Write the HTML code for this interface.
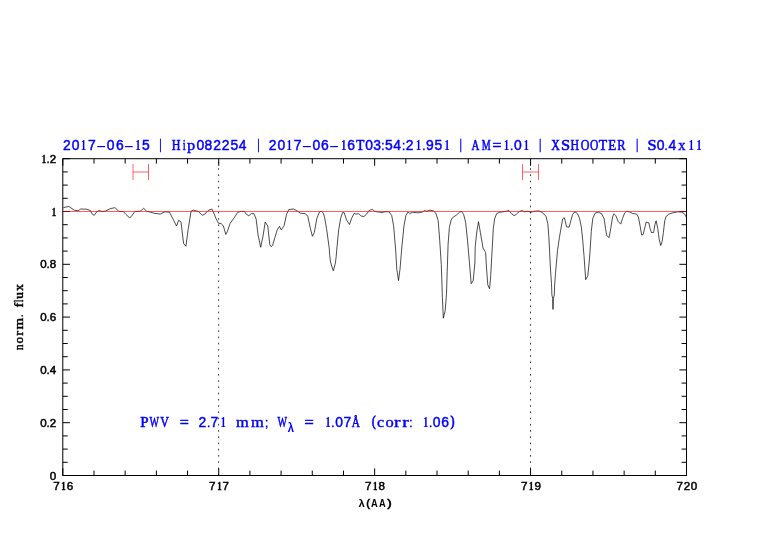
<!DOCTYPE html>
<html><head><meta charset="utf-8"><title>plot</title>
<style>
html,body{margin:0;padding:0;background:#fff;}
body{width:782px;height:542px;overflow:hidden;}
svg{display:block;}
.tk{fill:#000;stroke:#000;stroke-width:0.5px;}
.ttl{fill:#0000ff;stroke:#0000ff;stroke-width:0.3px;}
.lab{fill:#000;stroke:#000;stroke-width:0;}
.s{font-family:"Liberation Sans",sans-serif;}
.r{font-family:"Liberation Serif",serif;}
.sb{font-family:"Liberation Sans",sans-serif;font-weight:bold;}
.rb{font-family:"Liberation Serif",serif;font-weight:bold;}
</style></head>
<body>
<svg width="782" height="542" viewBox="0 0 782 542">
<rect width="782" height="542" fill="#fff"/>
<text class="ttl" y="150.6"><tspan x="62.98" y="150.30" textLength="7.73" lengthAdjust="spacingAndGlyphs" class="s" font-size="13.9" stroke-width="0.45">2</tspan><tspan x="71.76" y="150.30" textLength="7.73" lengthAdjust="spacingAndGlyphs" class="s" font-size="13.9" stroke-width="0.45">0</tspan><tspan x="80.72" y="150.30" textLength="5.45" lengthAdjust="spacingAndGlyphs" class="rb" font-size="14.734000000000002" stroke-width="0">1</tspan><tspan x="87.98" y="150.30" textLength="7.73" lengthAdjust="spacingAndGlyphs" class="s" font-size="13.9" stroke-width="0.45">7</tspan><tspan x="95.81" y="150.50" textLength="10.78" lengthAdjust="spacingAndGlyphs" class="s" font-size="13.9" stroke-width="0">-</tspan><tspan x="106.68" y="150.30" textLength="7.73" lengthAdjust="spacingAndGlyphs" class="s" font-size="13.9" stroke-width="0.45">0</tspan><tspan x="115.89" y="150.30" textLength="7.73" lengthAdjust="spacingAndGlyphs" class="s" font-size="13.9" stroke-width="0.45">6</tspan><tspan x="123.63" y="150.50" textLength="10.64" lengthAdjust="spacingAndGlyphs" class="s" font-size="13.9" stroke-width="0">-</tspan><tspan x="135.22" y="150.30" textLength="5.45" lengthAdjust="spacingAndGlyphs" class="rb" font-size="14.734000000000002" stroke-width="0">1</tspan><tspan x="141.95" y="150.30" textLength="7.73" lengthAdjust="spacingAndGlyphs" class="s" font-size="13.9" stroke-width="0.45">5</tspan> <tspan x="159.12" y="149.00" textLength="2.96" lengthAdjust="spacingAndGlyphs" class="r" font-size="14.8" stroke-width="0.3">|</tspan> <tspan x="171.85" y="150.30" textLength="8.70" lengthAdjust="spacingAndGlyphs" class="r" font-size="14.4" stroke-width="0.55">H</tspan><tspan x="182.72" y="150.30" textLength="3.04" lengthAdjust="spacingAndGlyphs" class="r" font-size="14.4" stroke-width="0.4">i</tspan><tspan x="187.09" y="150.30" textLength="8.21" lengthAdjust="spacingAndGlyphs" class="r" font-size="14.4" stroke-width="0.4">p</tspan><tspan x="196.38" y="150.30" textLength="7.73" lengthAdjust="spacingAndGlyphs" class="s" font-size="13.9" stroke-width="0.45">0</tspan><tspan x="204.53" y="150.30" textLength="7.73" lengthAdjust="spacingAndGlyphs" class="s" font-size="13.9" stroke-width="0.45">8</tspan><tspan x="213.23" y="150.30" textLength="7.73" lengthAdjust="spacingAndGlyphs" class="s" font-size="13.9" stroke-width="0.45">2</tspan><tspan x="221.73" y="150.30" textLength="7.73" lengthAdjust="spacingAndGlyphs" class="s" font-size="13.9" stroke-width="0.45">2</tspan><tspan x="230.40" y="150.30" textLength="7.73" lengthAdjust="spacingAndGlyphs" class="s" font-size="13.9" stroke-width="0.45">5</tspan><tspan x="238.83" y="150.30" textLength="7.73" lengthAdjust="spacingAndGlyphs" class="s" font-size="13.9" stroke-width="0.45">4</tspan> <tspan x="256.92" y="149.00" textLength="2.96" lengthAdjust="spacingAndGlyphs" class="r" font-size="14.8" stroke-width="0.3">|</tspan> <tspan x="268.68" y="150.30" textLength="7.73" lengthAdjust="spacingAndGlyphs" class="s" font-size="13.9" stroke-width="0.45">2</tspan><tspan x="277.46" y="150.30" textLength="7.73" lengthAdjust="spacingAndGlyphs" class="s" font-size="13.9" stroke-width="0.45">0</tspan><tspan x="286.42" y="150.30" textLength="5.45" lengthAdjust="spacingAndGlyphs" class="rb" font-size="14.734000000000002" stroke-width="0">1</tspan><tspan x="293.68" y="150.30" textLength="7.73" lengthAdjust="spacingAndGlyphs" class="s" font-size="13.9" stroke-width="0.45">7</tspan><tspan x="301.51" y="150.50" textLength="10.78" lengthAdjust="spacingAndGlyphs" class="s" font-size="13.9" stroke-width="0">-</tspan><tspan x="312.38" y="150.30" textLength="7.73" lengthAdjust="spacingAndGlyphs" class="s" font-size="13.9" stroke-width="0.45">0</tspan><tspan x="321.09" y="150.30" textLength="7.73" lengthAdjust="spacingAndGlyphs" class="s" font-size="13.9" stroke-width="0.45">6</tspan><tspan x="328.73" y="150.50" textLength="10.64" lengthAdjust="spacingAndGlyphs" class="s" font-size="13.9" stroke-width="0">-</tspan><tspan x="340.92" y="150.30" textLength="5.45" lengthAdjust="spacingAndGlyphs" class="rb" font-size="14.734000000000002" stroke-width="0">1</tspan><tspan x="347.19" y="150.30" textLength="7.73" lengthAdjust="spacingAndGlyphs" class="s" font-size="13.9" stroke-width="0.45">6</tspan><tspan x="356.36" y="150.30" textLength="8.16" lengthAdjust="spacingAndGlyphs" class="r" font-size="14.4" stroke-width="0.55">T</tspan><tspan x="365.18" y="150.30" textLength="7.73" lengthAdjust="spacingAndGlyphs" class="s" font-size="13.9" stroke-width="0.45">0</tspan><tspan x="373.23" y="150.30" textLength="7.73" lengthAdjust="spacingAndGlyphs" class="s" font-size="13.9" stroke-width="0.45">3</tspan><tspan x="381.12" y="150.30" textLength="3.75" lengthAdjust="spacingAndGlyphs" class="s" font-size="13.5" stroke-width="0.3">:</tspan><tspan x="385.05" y="150.30" textLength="7.73" lengthAdjust="spacingAndGlyphs" class="s" font-size="13.9" stroke-width="0.45">5</tspan><tspan x="393.18" y="150.30" textLength="7.73" lengthAdjust="spacingAndGlyphs" class="s" font-size="13.9" stroke-width="0.45">4</tspan><tspan x="401.77" y="150.30" textLength="3.75" lengthAdjust="spacingAndGlyphs" class="s" font-size="13.5" stroke-width="0.3">:</tspan><tspan x="405.63" y="150.30" textLength="7.73" lengthAdjust="spacingAndGlyphs" class="s" font-size="13.9" stroke-width="0.45">2</tspan><tspan x="415.82" y="150.30" textLength="5.45" lengthAdjust="spacingAndGlyphs" class="rb" font-size="14.734000000000002" stroke-width="0">1</tspan><tspan x="421.97" y="150.30" textLength="3.75" lengthAdjust="spacingAndGlyphs" class="s" font-size="13.5" stroke-width="0.3">.</tspan><tspan x="426.04" y="150.30" textLength="7.73" lengthAdjust="spacingAndGlyphs" class="s" font-size="13.9" stroke-width="0.45">9</tspan><tspan x="434.40" y="150.30" textLength="7.73" lengthAdjust="spacingAndGlyphs" class="s" font-size="13.9" stroke-width="0.45">5</tspan><tspan x="444.27" y="150.30" textLength="5.45" lengthAdjust="spacingAndGlyphs" class="rb" font-size="14.734000000000002" stroke-width="0">1</tspan> <tspan x="459.22" y="149.00" textLength="2.96" lengthAdjust="spacingAndGlyphs" class="r" font-size="14.8" stroke-width="0.3">|</tspan> <tspan x="471.59" y="150.30" textLength="7.89" lengthAdjust="spacingAndGlyphs" class="r" font-size="14.4" stroke-width="0.55">A</tspan><tspan x="481.72" y="150.30" textLength="8.96" lengthAdjust="spacingAndGlyphs" class="r" font-size="14.4" stroke-width="0.55">M</tspan><tspan x="492.62" y="150.30" textLength="8.85" lengthAdjust="spacingAndGlyphs" class="r" font-size="14.4" stroke-width="0.55">=</tspan><tspan x="503.82" y="150.30" textLength="5.45" lengthAdjust="spacingAndGlyphs" class="rb" font-size="14.734000000000002" stroke-width="0">1</tspan><tspan x="509.77" y="150.30" textLength="3.75" lengthAdjust="spacingAndGlyphs" class="s" font-size="13.5" stroke-width="0.3">.</tspan><tspan x="514.03" y="150.30" textLength="7.73" lengthAdjust="spacingAndGlyphs" class="s" font-size="13.9" stroke-width="0.45">0</tspan><tspan x="523.52" y="150.30" textLength="5.45" lengthAdjust="spacingAndGlyphs" class="rb" font-size="14.734000000000002" stroke-width="0">1</tspan> <tspan x="538.82" y="149.00" textLength="2.96" lengthAdjust="spacingAndGlyphs" class="r" font-size="14.8" stroke-width="0.3">|</tspan> <tspan x="551.14" y="150.30" textLength="8.58" lengthAdjust="spacingAndGlyphs" class="r" font-size="14.4" stroke-width="0.55">X</tspan><tspan x="561.00" y="150.30" textLength="9.11" lengthAdjust="spacingAndGlyphs" class="r" font-size="14.4" stroke-width="0.55">S</tspan><tspan x="570.46" y="150.30" textLength="8.59" lengthAdjust="spacingAndGlyphs" class="r" font-size="14.4" stroke-width="0.55">H</tspan><tspan x="580.71" y="150.30" textLength="8.69" lengthAdjust="spacingAndGlyphs" class="r" font-size="14.4" stroke-width="0.55">O</tspan><tspan x="589.93" y="150.30" textLength="8.35" lengthAdjust="spacingAndGlyphs" class="r" font-size="14.4" stroke-width="0.55">O</tspan><tspan x="598.85" y="150.30" textLength="8.38" lengthAdjust="spacingAndGlyphs" class="r" font-size="14.4" stroke-width="0.55">T</tspan><tspan x="608.33" y="150.30" textLength="7.92" lengthAdjust="spacingAndGlyphs" class="r" font-size="14.4" stroke-width="0.55">E</tspan><tspan x="617.14" y="150.30" textLength="8.28" lengthAdjust="spacingAndGlyphs" class="r" font-size="14.4" stroke-width="0.55">R</tspan> <tspan x="635.82" y="149.00" textLength="2.96" lengthAdjust="spacingAndGlyphs" class="r" font-size="14.8" stroke-width="0.3">|</tspan> <tspan x="647.40" y="150.30" textLength="9.11" lengthAdjust="spacingAndGlyphs" class="r" font-size="14.4" stroke-width="0.55">S</tspan><tspan x="656.73" y="150.30" textLength="7.73" lengthAdjust="spacingAndGlyphs" class="s" font-size="13.9" stroke-width="0.45">0</tspan><tspan x="664.32" y="150.30" textLength="3.75" lengthAdjust="spacingAndGlyphs" class="s" font-size="13.5" stroke-width="0.3">.</tspan><tspan x="668.58" y="150.30" textLength="7.73" lengthAdjust="spacingAndGlyphs" class="s" font-size="13.9" stroke-width="0.45">4</tspan><tspan x="678.22" y="150.30" textLength="7.20" lengthAdjust="spacingAndGlyphs" class="r" font-size="14.4" stroke-width="0.4">x</tspan><tspan x="688.42" y="150.30" textLength="5.45" lengthAdjust="spacingAndGlyphs" class="rb" font-size="14.734000000000002" stroke-width="0">1</tspan><tspan x="696.27" y="150.30" textLength="5.45" lengthAdjust="spacingAndGlyphs" class="rb" font-size="14.734000000000002" stroke-width="0">1</tspan></text>
<path d="M218.6,475.37V159M530.5,475.37V159" stroke="#000" stroke-opacity="0.8" stroke-width="1" stroke-dasharray="1.6 4.636" fill="none"/>
<polyline points="63.5,207.6 68.8,206.4 74.2,210.2 78.1,210.8 80.7,209.0 86.5,209.2 90.4,210.5 92.3,214.1 94.2,215.4 96.2,212.4 98.8,210.5 102,211.5 105.2,211.2 110.4,208.6 114.9,207.7 116.8,209.2 118.8,211.4 123.3,211.5 125.9,214.4 129.8,218.0 132.4,215.0 134.9,211.5 140.1,211.3 143.7,208.3 146.6,211.2 150.4,212.2 154.3,213.3 160.1,214.1 164.9,211.8 169.4,212.1 173.3,219.5 176.5,226.0 178.7,220.2 181,222.1 183.6,243.4 185.9,246.3 188.1,229.9 191.1,211.2 193.3,210.1 198.4,211.5 202.3,215.3 204.9,214.1 208.1,210.5 211.8,209.0 213.3,211.8 215.9,218.3 218.7,223.4 221.1,223.4 223.4,226.0 225.8,234.4 227.5,231.2 230.1,223.4 234,218.0 237.9,212.2 241.7,211.3 244.3,211.5 246.5,214.4 248.8,215.7 251.6,213.5 254,213.7 256.1,218.9 258.1,235.1 260.7,247.3 263,236.3 265.2,222.1 267.8,226.0 269.7,244.1 271,246.7 272.6,245.4 274.9,237.6 277.2,229.9 279.4,226.4 281.3,229.9 284.2,225.4 286.5,214.4 288.8,209.5 293.6,209.0 297.5,211.2 300.7,213.3 305.2,213.5 307.8,216.3 310.4,228.6 312.4,236.3 314.3,232.5 316.9,218.3 319.5,211.8 321.4,211.2 323.2,213.0 324.5,216.8 326.5,228.4 329.2,247.8 329.7,255.2 330.5,261.9 332.0,267 333.3,270.8 334.4,267 335.4,262.9 336.2,256.7 336.8,249 338.7,229.7 340.7,218.1 342.6,212.5 344.3,212.9 346.5,220.0 349.5,224.5 351.7,218.1 354.2,213.3 356.2,214.2 358.5,213.6 361.3,216.1 363.9,216.5 366.5,214.2 369.1,210.6 372.3,209.3 374.9,211.4 378.1,211.9 382,212.5 385.9,211.6 389.1,211.9 391.7,215.5 393.6,225.8 395.6,249.1 396.8,269.2 398.5,280.6 400,269.2 402,245.2 404,225.8 405.9,215.5 408.1,211.9 409.8,213.6 412.4,212.3 417.8,212.8 422.3,212.1 424.5,210.5 426.8,211.2 430,210.2 433.3,210.8 435.8,213.1 438.2,220.8 439.7,240.2 441.3,264.8 442.4,297.6 443.3,318.2 445.2,310.6 446.5,293.8 447.2,271.8 448.1,244.1 449.4,227.3 451.1,220.2 452.6,217.6 456.5,215.0 459.7,212.1 461.7,211.5 463.6,214.4 465.6,222.1 467.5,240.2 469.4,262.2 471.2,283.7 473.2,280.6 474.9,262.9 475.2,246.7 476.9,231.2 478.5,221.7 480.4,232.5 483,248 485.6,252.5 486.5,268.1 487.8,284.9 489.6,288.8 490.7,275.8 491.7,257.8 492.3,246.7 493.3,228.6 494.6,218.9 496.6,213.7 499.1,212.4 503,211.8 506.3,211.2 508.8,210.5 511.6,213.7 514,215.7 516.1,214.4 519.4,211.5 522.2,210.5 524.5,211.8 527.8,211.2 531,212.2 534.9,211.2 538.8,210.8 542.6,212.8 545.9,216.3 547.8,223.4 548.8,236.3 549.7,253.1 550.4,268 551.5,283.6 551.9,295 552.7,298.5 553.0,309.4 553.3,298.5 554.3,295 554.6,286 555.5,273.3 557.5,250.6 559.4,237.6 561.4,226 562.7,218.9 564.2,217.6 565.2,220.8 566.5,226.7 569.1,227.3 570.8,220.8 572.6,214.4 574.9,211.8 577.5,213.7 579.5,218.3 581.4,227.3 582.7,240.2 584,255.7 585,270 585.7,279.7 587.8,275.8 589.1,262.9 590,251.8 591.3,231.2 592.8,218.3 595.2,213.1 598.4,212.1 601.6,213.7 604.2,218.9 605.5,228.6 606.8,235.7 609.1,237.6 610.7,228.6 612.6,217.0 613.9,213.7 615.8,215.7 618.2,221.5 620.7,224.1 622.6,218.3 624.6,213.1 626.8,211.2 629.4,211.8 632.6,213.5 636.5,214.0 638.4,217.0 640.1,226.0 641.7,235.1 643.2,234.4 644.9,227.3 646.2,222.1 648.8,222.8 650.1,228.6 651.4,232.5 653.6,232.5 654.9,224.7 656.1,220.8 657.8,228.6 659.1,238.9 660.7,245.6 662.1,241.5 663.4,232.5 664.7,220.8 666.2,216.3 668.8,214.1 672.7,212.8 677.9,211.8 681.7,212.1 684.3,213.7 686.3,217" fill="none" stroke="#000" stroke-width="0.7" stroke-linejoin="round"/>
<path d="M133,164.1V180M148.5,164.1V180M133,172H148.5M522.5,164.1V180M538.5,164.1V180M522.5,172H538.5" stroke="#ff0000" stroke-opacity="0.62" stroke-width="1" fill="none"/>
<rect x="62.8" y="158.7" width="623.7" height="316.8" fill="none" stroke="#000" stroke-width="1"/>
<path d="M62.80,475.5v-7.1M62.80,158.7v7.1M218.73,475.5v-7.1M218.73,158.7v7.1M374.65,475.5v-7.1M374.65,158.7v7.1M530.58,475.5v-7.1M530.58,158.7v7.1M686.50,475.5v-7.1M686.50,158.7v7.1M62.8,475.50h7.1M686.5,475.50h-7.1M62.8,422.70h7.1M686.5,422.70h-7.1M62.8,369.90h7.1M686.5,369.90h-7.1M62.8,317.10h7.1M686.5,317.10h-7.1M62.8,264.30h7.1M686.5,264.30h-7.1M62.8,211.50h7.1M686.5,211.50h-7.1M62.8,158.70h7.1M686.5,158.70h-7.1" stroke="#000" stroke-width="1" fill="none"/>
<path d="M93.99,475.5v-4.9M93.99,158.7v4.9M125.17,475.5v-4.9M125.17,158.7v4.9M156.36,475.5v-4.9M156.36,158.7v4.9M187.54,475.5v-4.9M187.54,158.7v4.9M249.91,475.5v-4.9M249.91,158.7v4.9M281.09,475.5v-4.9M281.09,158.7v4.9M312.28,475.5v-4.9M312.28,158.7v4.9M343.46,475.5v-4.9M343.46,158.7v4.9M405.84,475.5v-4.9M405.84,158.7v4.9M437.02,475.5v-4.9M437.02,158.7v4.9M468.21,475.5v-4.9M468.21,158.7v4.9M499.39,475.5v-4.9M499.39,158.7v4.9M561.76,475.5v-4.9M561.76,158.7v4.9M592.94,475.5v-4.9M592.94,158.7v4.9M624.13,475.5v-4.9M624.13,158.7v4.9M655.31,475.5v-4.9M655.31,158.7v4.9M62.8,462.30h4.9M686.5,462.30h-4.9M62.8,449.10h4.9M686.5,449.10h-4.9M62.8,435.90h4.9M686.5,435.90h-4.9M62.8,409.50h4.9M686.5,409.50h-4.9M62.8,396.30h4.9M686.5,396.30h-4.9M62.8,383.10h4.9M686.5,383.10h-4.9M62.8,356.70h4.9M686.5,356.70h-4.9M62.8,343.50h4.9M686.5,343.50h-4.9M62.8,330.30h4.9M686.5,330.30h-4.9M62.8,303.90h4.9M686.5,303.90h-4.9M62.8,290.70h4.9M686.5,290.70h-4.9M62.8,277.50h4.9M686.5,277.50h-4.9M62.8,251.10h4.9M686.5,251.10h-4.9M62.8,237.90h4.9M686.5,237.90h-4.9M62.8,224.70h4.9M686.5,224.70h-4.9M62.8,198.30h4.9M686.5,198.30h-4.9M62.8,185.10h4.9M686.5,185.10h-4.9M62.8,171.90h4.9M686.5,171.90h-4.9" stroke="#000" stroke-width="1" fill="none"/>
<path d="M62.8,211.5H686.5" stroke="#ff0000" stroke-opacity="0.62" stroke-width="1" fill="none"/>
<text class="tk" y="490.30"><tspan x="53.21" y="490.30" textLength="6.47" lengthAdjust="spacingAndGlyphs" class="s" font-size="11.3" stroke-width="0.5">7</tspan><tspan x="61.21" y="490.30" textLength="4.43" lengthAdjust="spacingAndGlyphs" class="rb" font-size="11.978000000000002" stroke-width="0.35">1</tspan><tspan x="66.67" y="490.30" textLength="6.47" lengthAdjust="spacingAndGlyphs" class="s" font-size="11.3" stroke-width="0.5">6</tspan></text><text class="tk" y="490.30"><tspan x="209.13" y="490.30" textLength="6.47" lengthAdjust="spacingAndGlyphs" class="s" font-size="11.3" stroke-width="0.5">7</tspan><tspan x="217.13" y="490.30" textLength="4.43" lengthAdjust="spacingAndGlyphs" class="rb" font-size="11.978000000000002" stroke-width="0.35">1</tspan><tspan x="222.63" y="490.30" textLength="6.47" lengthAdjust="spacingAndGlyphs" class="s" font-size="11.3" stroke-width="0.5">7</tspan></text><text class="tk" y="490.30"><tspan x="365.06" y="490.30" textLength="6.47" lengthAdjust="spacingAndGlyphs" class="s" font-size="11.3" stroke-width="0.5">7</tspan><tspan x="373.06" y="490.30" textLength="4.43" lengthAdjust="spacingAndGlyphs" class="rb" font-size="11.978000000000002" stroke-width="0.35">1</tspan><tspan x="378.56" y="490.30" textLength="6.47" lengthAdjust="spacingAndGlyphs" class="s" font-size="11.3" stroke-width="0.5">8</tspan></text><text class="tk" y="490.30"><tspan x="520.98" y="490.30" textLength="6.47" lengthAdjust="spacingAndGlyphs" class="s" font-size="11.3" stroke-width="0.5">7</tspan><tspan x="528.98" y="490.30" textLength="4.43" lengthAdjust="spacingAndGlyphs" class="rb" font-size="11.978000000000002" stroke-width="0.35">1</tspan><tspan x="534.49" y="490.30" textLength="6.47" lengthAdjust="spacingAndGlyphs" class="s" font-size="11.3" stroke-width="0.5">9</tspan></text><text class="tk" y="490.30"><tspan x="676.51" y="490.30" textLength="6.47" lengthAdjust="spacingAndGlyphs" class="s" font-size="11.3" stroke-width="0.5">7</tspan><tspan x="683.66" y="490.30" textLength="6.47" lengthAdjust="spacingAndGlyphs" class="s" font-size="11.3" stroke-width="0.5">2</tspan><tspan x="690.81" y="490.30" textLength="6.47" lengthAdjust="spacingAndGlyphs" class="s" font-size="11.3" stroke-width="0.5">0</tspan></text><text class="tk" y="479.65"><tspan x="49.76" y="479.65" textLength="6.47" lengthAdjust="spacingAndGlyphs" class="s" font-size="11.3" stroke-width="0.5">0</tspan></text><text class="tk" y="426.85"><tspan x="40.21" y="426.85" textLength="6.47" lengthAdjust="spacingAndGlyphs" class="s" font-size="11.3" stroke-width="0.5">0</tspan><tspan x="46.55" y="426.85" textLength="3.20" lengthAdjust="spacingAndGlyphs" class="s" font-size="11.5" stroke-width="0.4">.</tspan><tspan x="49.76" y="426.85" textLength="6.47" lengthAdjust="spacingAndGlyphs" class="s" font-size="11.3" stroke-width="0.5">2</tspan></text><text class="tk" y="374.05"><tspan x="40.21" y="374.05" textLength="6.47" lengthAdjust="spacingAndGlyphs" class="s" font-size="11.3" stroke-width="0.5">0</tspan><tspan x="46.55" y="374.05" textLength="3.20" lengthAdjust="spacingAndGlyphs" class="s" font-size="11.5" stroke-width="0.4">.</tspan><tspan x="49.80" y="374.05" textLength="6.47" lengthAdjust="spacingAndGlyphs" class="s" font-size="11.3" stroke-width="0.5">4</tspan></text><text class="tk" y="321.25"><tspan x="40.21" y="321.25" textLength="6.47" lengthAdjust="spacingAndGlyphs" class="s" font-size="11.3" stroke-width="0.5">0</tspan><tspan x="46.55" y="321.25" textLength="3.20" lengthAdjust="spacingAndGlyphs" class="s" font-size="11.5" stroke-width="0.4">.</tspan><tspan x="49.72" y="321.25" textLength="6.47" lengthAdjust="spacingAndGlyphs" class="s" font-size="11.3" stroke-width="0.5">6</tspan></text><text class="tk" y="268.45"><tspan x="40.21" y="268.45" textLength="6.47" lengthAdjust="spacingAndGlyphs" class="s" font-size="11.3" stroke-width="0.5">0</tspan><tspan x="46.55" y="268.45" textLength="3.20" lengthAdjust="spacingAndGlyphs" class="s" font-size="11.5" stroke-width="0.4">.</tspan><tspan x="49.76" y="268.45" textLength="6.47" lengthAdjust="spacingAndGlyphs" class="s" font-size="11.3" stroke-width="0.5">8</tspan></text><text class="tk" y="215.65"><tspan x="51.86" y="215.65" textLength="4.43" lengthAdjust="spacingAndGlyphs" class="rb" font-size="11.978000000000002" stroke-width="0.35">1</tspan></text><text class="tk" y="162.85"><tspan x="41.86" y="162.85" textLength="4.43" lengthAdjust="spacingAndGlyphs" class="rb" font-size="11.978000000000002" stroke-width="0.35">1</tspan><tspan x="46.55" y="162.85" textLength="3.20" lengthAdjust="spacingAndGlyphs" class="s" font-size="11.5" stroke-width="0.4">.</tspan><tspan x="49.76" y="162.85" textLength="6.47" lengthAdjust="spacingAndGlyphs" class="s" font-size="11.3" stroke-width="0.5">2</tspan></text>
<text class="lab" transform="translate(22.8,350.4) rotate(-90)" y="0"><tspan x="0.35" textLength="5.52" lengthAdjust="spacingAndGlyphs" class="r" font-size="11.7" stroke-width="0.4">n</tspan><tspan x="7.00" textLength="6.61" lengthAdjust="spacingAndGlyphs" class="r" font-size="11.7" stroke-width="0.4">o</tspan><tspan x="14.60" textLength="4.93" lengthAdjust="spacingAndGlyphs" class="r" font-size="11.7" stroke-width="0.4">r</tspan><tspan x="20.89" textLength="11.65" lengthAdjust="spacingAndGlyphs" class="r" font-size="11.7" stroke-width="0.4">m</tspan><tspan x="33.33" textLength="2.34" lengthAdjust="spacingAndGlyphs" class="r" font-size="11.7" stroke-width="0.4">.</tspan> <tspan x="42.86" textLength="4.74" lengthAdjust="spacingAndGlyphs" class="r" font-size="11.7" stroke-width="0.4">f</tspan><tspan x="48.15" textLength="2.60" lengthAdjust="spacingAndGlyphs" class="r" font-size="11.7" stroke-width="0.4">l</tspan><tspan x="51.31" textLength="7.03" lengthAdjust="spacingAndGlyphs" class="r" font-size="11.7" stroke-width="0.4">u</tspan><tspan x="59.48" textLength="6.99" lengthAdjust="spacingAndGlyphs" class="r" font-size="11.7" stroke-width="0.4">x</tspan></text>
<text class="lab" y="507.1"><tspan x="358.60" y="506.90" textLength="6.27" lengthAdjust="spacingAndGlyphs" class="sb" font-size="10.1">λ</tspan><tspan x="366.15" y="506.50" textLength="3.77" lengthAdjust="spacingAndGlyphs" class="s" font-size="11.0" stroke-width="0.6">(</tspan><tspan x="370.92" y="506.90" textLength="6.73" lengthAdjust="spacingAndGlyphs" class="sb" font-size="10.6">A</tspan><tspan x="379.02" y="506.90" textLength="6.67" lengthAdjust="spacingAndGlyphs" class="sb" font-size="10.6">A</tspan><tspan x="387.22" y="506.50" textLength="4.46" lengthAdjust="spacingAndGlyphs" class="s" font-size="11.0" stroke-width="0.6">)</tspan></text>
<text class="ttl" y="427.7"><tspan x="140.17" y="427.40" textLength="8.33" lengthAdjust="spacingAndGlyphs" class="r" font-size="14.4" stroke-width="0.55">P</tspan><tspan x="149.45" y="427.40" textLength="9.51" lengthAdjust="spacingAndGlyphs" class="r" font-size="14.4" stroke-width="0.55">W</tspan><tspan x="160.27" y="427.40" textLength="8.67" lengthAdjust="spacingAndGlyphs" class="r" font-size="14.4" stroke-width="0.55">V</tspan> <tspan x="179.70" y="427.40" textLength="9.09" lengthAdjust="spacingAndGlyphs" class="r" font-size="14.4" stroke-width="0.55">=</tspan> <tspan x="198.58" y="427.40" textLength="7.73" lengthAdjust="spacingAndGlyphs" class="s" font-size="13.9" stroke-width="0.45">2</tspan><tspan x="206.82" y="427.40" textLength="3.75" lengthAdjust="spacingAndGlyphs" class="s" font-size="13.5" stroke-width="0.3">.</tspan><tspan x="210.43" y="427.40" textLength="7.73" lengthAdjust="spacingAndGlyphs" class="s" font-size="13.9" stroke-width="0.45">7</tspan><tspan x="220.47" y="427.40" textLength="5.45" lengthAdjust="spacingAndGlyphs" class="rb" font-size="14.734000000000002" stroke-width="0">1</tspan> <tspan x="236.00" y="427.40" textLength="12.80" lengthAdjust="spacingAndGlyphs" class="r" font-size="14.4" stroke-width="0.4">m</tspan><tspan x="251.00" y="427.40" textLength="12.80" lengthAdjust="spacingAndGlyphs" class="r" font-size="14.4" stroke-width="0.4">m</tspan><tspan x="264.72" y="427.40" textLength="3.75" lengthAdjust="spacingAndGlyphs" class="s" font-size="13.5" stroke-width="0.3">;</tspan> <tspan x="277.60" y="427.40" textLength="9.51" lengthAdjust="spacingAndGlyphs" class="r" font-size="14.4" stroke-width="0.55">W</tspan><tspan x="287.85" y="431.70" textLength="6.22" lengthAdjust="spacingAndGlyphs" class="sb" font-size="12.0" stroke-width="0">λ</tspan> <tspan x="304.59" y="427.40" textLength="9.21" lengthAdjust="spacingAndGlyphs" class="r" font-size="14.4" stroke-width="0.55">=</tspan> <tspan x="325.37" y="427.40" textLength="5.45" lengthAdjust="spacingAndGlyphs" class="rb" font-size="14.734000000000002" stroke-width="0">1</tspan><tspan x="331.02" y="427.40" textLength="3.75" lengthAdjust="spacingAndGlyphs" class="s" font-size="13.5" stroke-width="0.3">.</tspan><tspan x="335.13" y="427.40" textLength="7.73" lengthAdjust="spacingAndGlyphs" class="s" font-size="13.9" stroke-width="0.45">0</tspan><tspan x="343.58" y="427.40" textLength="7.73" lengthAdjust="spacingAndGlyphs" class="s" font-size="13.9" stroke-width="0.45">7</tspan><tspan x="351.79" y="427.40" textLength="8.19" lengthAdjust="spacingAndGlyphs" class="r" font-size="14.4" stroke-width="0.55">Å</tspan> <tspan x="371.92" y="426.30" textLength="3.63" lengthAdjust="spacingAndGlyphs" class="r" font-size="14.4" stroke-width="0.8">(</tspan><tspan x="377.14" y="427.40" textLength="7.10" lengthAdjust="spacingAndGlyphs" class="r" font-size="14.4" stroke-width="0.4">c</tspan><tspan x="385.42" y="427.40" textLength="8.26" lengthAdjust="spacingAndGlyphs" class="r" font-size="14.4" stroke-width="0.4">o</tspan><tspan x="394.10" y="427.40" textLength="6.47" lengthAdjust="spacingAndGlyphs" class="r" font-size="14.4" stroke-width="0.4">r</tspan><tspan x="402.15" y="427.40" textLength="6.47" lengthAdjust="spacingAndGlyphs" class="r" font-size="14.4" stroke-width="0.4">r</tspan><tspan x="409.12" y="427.40" textLength="3.75" lengthAdjust="spacingAndGlyphs" class="s" font-size="13.5" stroke-width="0.3">:</tspan> <tspan x="423.02" y="427.40" textLength="5.45" lengthAdjust="spacingAndGlyphs" class="rb" font-size="14.734000000000002" stroke-width="0">1</tspan><tspan x="428.82" y="427.40" textLength="3.75" lengthAdjust="spacingAndGlyphs" class="s" font-size="13.5" stroke-width="0.3">.</tspan><tspan x="432.73" y="427.40" textLength="7.73" lengthAdjust="spacingAndGlyphs" class="s" font-size="13.9" stroke-width="0.45">0</tspan><tspan x="441.29" y="427.40" textLength="7.73" lengthAdjust="spacingAndGlyphs" class="s" font-size="13.9" stroke-width="0.45">6</tspan><tspan x="450.51" y="426.30" textLength="4.02" lengthAdjust="spacingAndGlyphs" class="r" font-size="14.4" stroke-width="0.8">)</tspan></text>
</svg>
</body></html>
